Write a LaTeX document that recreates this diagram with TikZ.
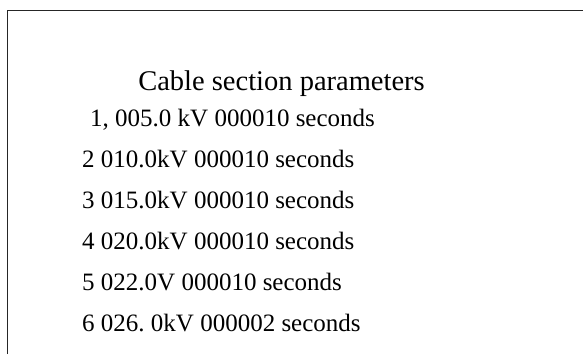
\documentclass[tikz,border=0pt]{standalone}
\usepackage{fontspec}
\setmainfont{Liberation Serif}
\usepackage{tikz}
\frenchspacing

\tikzset{
  rowtext/.style={anchor=base west, inner sep=0pt, font=\fontsize{25}{30}\selectfont},
  titletext/.style={anchor=base, inner sep=0pt, font=\fontsize{28.5}{34}\selectfont}
}

\begin{document}
\begin{tikzpicture}[x=1pt,y=1pt]
\useasboundingbox (0,0) rectangle (583,354);
\draw [line width=1pt, black!85] (7,0) -- (7,343) -- (583,343);
\node [titletext] (title) at (281.5,263) {Cable section parameters};
\node [rowtext] (row1) at (90,228) {1, 005.0 kV 000010 seconds};
\node [rowtext] (row2) at (82,187) {2 010.0kV 000010 seconds};
\node [rowtext] (row3) at (82,146) {3 015.0kV 000010 seconds};
\node [rowtext] (row4) at (82,105) {4 020.0kV 000010 seconds};
\node [rowtext] (row5) at (82,64) {5 022.0V 000010 seconds};
\node [rowtext] (row6) at (82,23) {6 026. 0kV 000002 seconds};
\end{tikzpicture}
\end{document}
